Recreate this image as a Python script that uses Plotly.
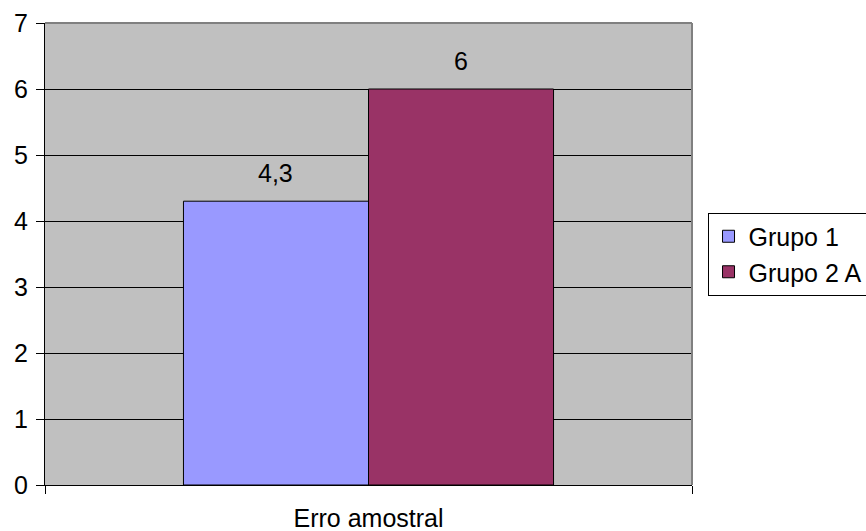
import plotly.graph_objects as go

# Data
categories = ["Erro amostral"]
series_names = ["Grupo 1", "Grupo 2 A"]
grupo1_values = [4.3]
grupo2_values = [6]
series_colors = ["#9999FF", "#993366"]

y_ticks = [0, 1, 2, 3, 4, 5, 6, 7]

FONT = "Liberation Sans, Arial, sans-serif"
FS = 25

fig = go.Figure()
for name, vals, color in zip(series_names, [grupo1_values, grupo2_values], series_colors):
    fig.add_trace(go.Bar(
        x=categories, y=vals, name=name,
        marker=dict(color=color, line=dict(color="#000000", width=1)),
    ))
    # value labels above each bar
    for cat, v in zip(categories, vals):
        fig.add_annotation(
            x=cat, y=v, text=f"{v:g}".replace(".", ","), showarrow=False,
            xref="x", yref="y", yshift=28,
            xshift=-93 if name == "Grupo 1" else 92,
            font=dict(family=FONT, size=FS, color="#000000"),
        )

fig.update_layout(
    width=866, height=531,
    margin=dict(l=45, r=174, t=23, b=46, autoexpand=False),
    paper_bgcolor="#FFFFFF",
    plot_bgcolor="#C0C0C0",
    barmode="group",
    bargap=0.428,
    bargroupgap=0,
    separators=",.",
    font=dict(family=FONT, size=FS, color="#000000"),
    showlegend=True,
    legend=dict(
        x=1.024, y=0.5, xanchor="left", yanchor="middle",
        bordercolor="#000000", borderwidth=1, bgcolor="#FFFFFF",
        font=dict(family=FONT, size=FS, color="#000000"),
        itemwidth=30, tracegroupgap=0,
    ),
    xaxis=dict(
        type="category",
        automargin=False,
        showline=True, linecolor="#000000", linewidth=1,
        ticks="outside", ticklen=8, tickcolor="#000000",
        tickson="boundaries",
        showgrid=False,
        tickfont=dict(family=FONT, size=FS),
        ticklabelstandoff=11,
    ),
    yaxis=dict(
        range=[0, 7],
        tickvals=y_ticks,
        automargin=False,
        showline=True, linecolor="#000000", linewidth=1,
        ticks="outside", ticklen=8, tickcolor="#000000",
        showgrid=True, gridcolor="#000000", gridwidth=1,
        zeroline=False,
        tickfont=dict(family=FONT, size=FS),
        ticklabelstandoff=3,
    ),
    shapes=[
        dict(type="line", xref="paper", yref="paper", x0=0, x1=1, y0=1, y1=1,
             line=dict(color="#808080", width=2)),
        dict(type="line", xref="paper", yref="paper", x0=1, x1=1, y0=0, y1=1,
             line=dict(color="#808080", width=2)),
    ],
)

fig.write_html("out.html")
